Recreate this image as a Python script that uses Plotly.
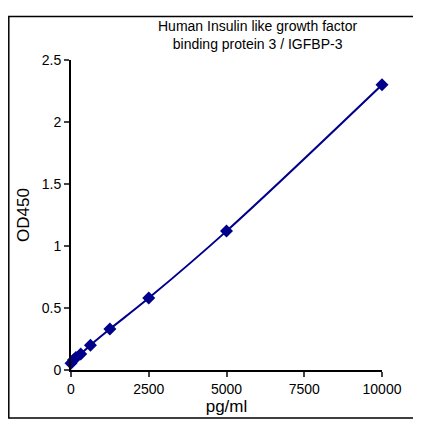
import plotly.graph_objects as go

conc = [0, 78.125, 156.25, 312.5, 625, 1250, 2500, 5000, 10000]
od = [0.055, 0.08, 0.10, 0.13, 0.20, 0.33, 0.58, 1.12, 2.30]
xticks = [0, 2500, 5000, 7500, 10000]
yticks = [0, 0.5, 1, 1.5, 2, 2.5]

fig = go.Figure(go.Scatter(x=conc, y=od, mode="lines+markers", line=dict(color="#00008B", width=2, shape="spline"),
                           marker=dict(symbol="diamond", size=10, color="#00008B"), cliponaxis=False))
fig.update_layout(width=421, height=423, plot_bgcolor="white", paper_bgcolor="white", showlegend=False,
                  margin=dict(l=63, r=47, t=52, b=61),
                  font=dict(family="Liberation Sans, Arial", size=14, color="black"),
                  annotations=[dict(text="Human Insulin like growth factor<br>binding protein 3 / IGFBP-3", x=0.6, y=1.02,
                                    xref="paper", yref="paper", xanchor="center", yanchor="bottom", showarrow=False,
                                    font=dict(size=14))],
                  shapes=[dict(type="rect", xref="paper", yref="paper", x0=-0.2, x1=1.11, y0=-0.155, y1=1.14,
                               line=dict(color="black", width=1.5), layer="above")])
fig.update_xaxes(range=[0, 10000], tickvals=xticks, ticktext=[str(v) for v in xticks], showgrid=False, zeroline=False,
                 showline=True, linecolor="black", linewidth=2, ticks="outside", ticklen=5, tickwidth=2,
                 title=dict(text="pg/ml", standoff=2))
fig.update_yaxes(range=[0, 2.5], tickvals=yticks, ticktext=["0", "0.5", "1", "1.5", "2", "2.5"], showgrid=False, zeroline=False,
                 showline=True, linecolor="black", linewidth=2, ticks="outside", ticklen=5, tickwidth=2,
                 title=dict(text="OD450", standoff=8))
fig.write_html("out.html")
